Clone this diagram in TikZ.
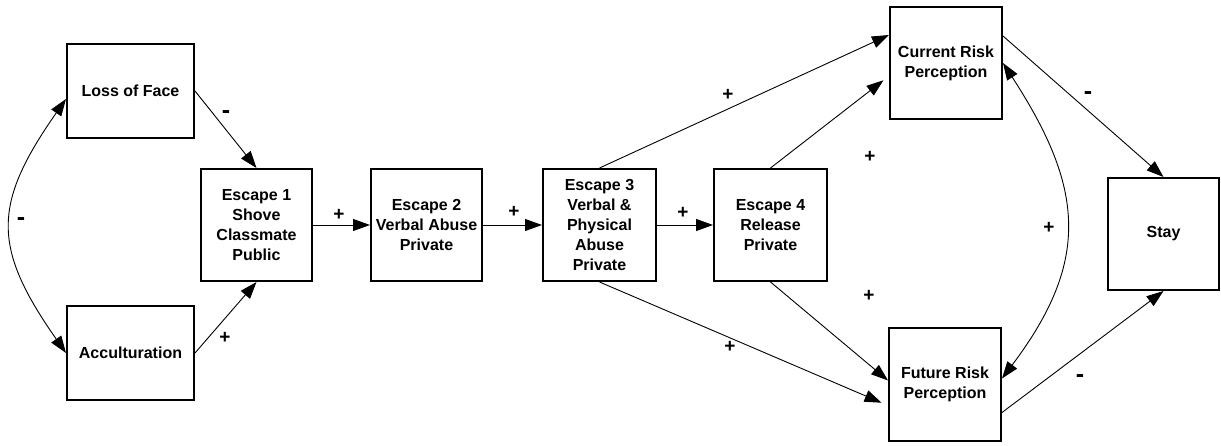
\documentclass[tikz,border=0pt]{standalone}
\usepackage{fontspec}
\setmainfont{Liberation Sans}
\usetikzlibrary{arrows.meta}
\begin{document}
\begin{tikzpicture}[x=1pt,y=-1pt,
  box/.style={draw,line width=2pt,align=center,font=\fontsize{16}{20}\selectfont\bfseries,inner sep=0pt},
  arr/.style={line width=0.9pt,-{Triangle[length=17pt,width=12pt]}},
  darr/.style={line width=0.9pt,{Triangle[length=17pt,width=12pt]}-{Triangle[length=17pt,width=12pt]}},
  plus/.style={font=\fontsize{19}{20}\selectfont\bfseries,inner sep=0pt},
  minus/.style={font=\fontsize{25}{25}\selectfont\bfseries,inner sep=0pt,yshift=-2.5pt}]
\useasboundingbox (0,0) rectangle (1221,446);
\node[box,minimum width=127pt,minimum height=94pt] (loss) at (130.5,91) {Loss of Face};
\node[box,minimum width=127pt,minimum height=94pt] (acc) at (130.5,353) {Acculturation};
\node[box,minimum width=111pt,minimum height=112pt] (e1) at (256.5,225) {Escape 1\\Shove\\Classmate\\Public};
\node[box,minimum width=111pt,minimum height=112pt] (e2) at (426.5,225) {Escape 2\\Verbal Abuse\\Private};
\node[box,minimum width=113pt,minimum height=112pt] (e3) at (599.5,225) {Escape 3\\Verbal \&\\Physical\\Abuse\\Private};
\node[box,minimum width=113pt,minimum height=112pt] (e4) at (770.5,225) {Escape 4\\Release\\Private};
\node[box,minimum width=112pt,minimum height=112pt] (cr) at (946,63) {Current Risk\\Perception};
\node[box,minimum width=112pt,minimum height=113pt] (fr) at (945,384.5) {Future Risk\\Perception};
\node[box,minimum width=111pt,minimum height=112pt] (stay) at (1163.5,234) {Stay};

\draw[arr] (loss.east) -- (e1.north);
\draw[arr] (acc.east) -- (e1.south);
\draw[darr] ([yshift=-8pt]loss.west) to[out=235,in=125,looseness=1.3] (acc.west);
\draw[arr] (e1) -- (e2);
\draw[arr] (e2) -- (e3);
\draw[arr] (e3) -- (e4);
\draw[arr] (e3.north) -- ([yshift=28pt]cr.west);
\draw[arr,shorten >=7pt] (e4.north) -- ([yshift=-13pt]cr.west);
\draw[arr,shorten >=7pt] (e3.south) -- ([yshift=-21pt]fr.west);
\draw[arr] (e4.south) -- ([yshift=4pt]fr.west);
\draw[arr] ([yshift=27pt]cr.east) -- (stay.north);
\draw[arr] ([yshift=-28pt]fr.east) -- (stay.south);
\draw[darr] (cr.east) to[out=-57,in=53,looseness=1.2] ([yshift=6pt]fr.east);

\node[minus] (s1) at (226,112) {-};
\node[plus] (s2) at (225,338) {+};
\node[minus] (s3) at (21,219) {-};
\node[plus] (s4) at (339,215) {+};
\node[plus] (s5) at (514,212) {+};
\node[plus] (s6) at (683,213) {+};
\node[plus] (s7) at (728,95) {+};
\node[plus] (s8) at (870,157) {+};
\node[plus] (s9) at (730,347) {+};
\node[plus] (s10) at (869,296) {+};
\node[plus] (s11) at (1049,228) {+};
\node[minus] (s12) at (1088,93) {-};
\node[minus] (s13) at (1080,376) {-};
\end{tikzpicture}
\end{document}
